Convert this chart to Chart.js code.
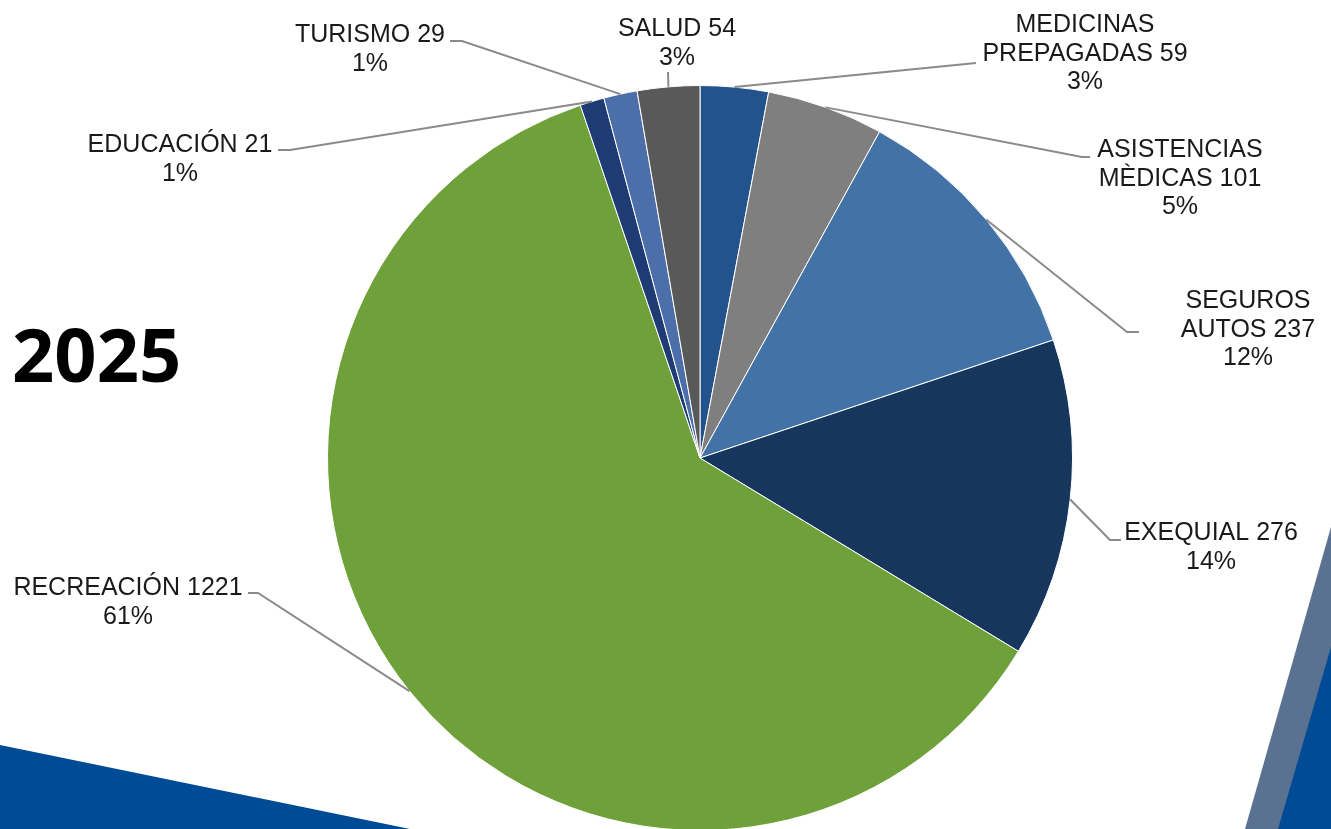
<!DOCTYPE html>
<html>
<head>
<meta charset="utf-8">
<script src="https://cdn.jsdelivr.net/npm/chart.js@4/dist/chart.umd.min.js"></script>
<style>
  html, body { margin: 0; padding: 0; width: 1331px; height: 829px; overflow: hidden; background: #fff; }
  .band { position: absolute; }
  #bandLeft  { left: 0; top: 0; width: 1331px; height: 829px; background: #004b96; clip-path: polygon(0 745px, 410px 829px, 0 829px); }
  #bandGray  { left: 0; top: 0; width: 1331px; height: 829px; background: #5b7190; clip-path: polygon(1331px 527px, 1331px 829px, 1245px 829px); }
  #bandBlue  { left: 0; top: 0; width: 1331px; height: 829px; background: #004b96; clip-path: polygon(1331px 647px, 1331px 829px, 1278px 829px); }
  #wrap { position: absolute; left: 0; top: 0; width: 1331px; height: 845px; }
  #year { position: absolute; left: 12px; top: 304px; font: bold 74px "Noto Sans", "Open Sans", sans-serif; color: #000; line-height: 100px; }
</style>
</head>
<body>
<div class="band" id="bandLeft"></div>
<div class="band" id="bandGray"></div>
<div class="band" id="bandBlue"></div>
<div id="year">2025</div>
<div id="wrap"><canvas id="pie"></canvas></div>
<script>
// ── datos ────────────────────────────────────────────────────────────────────
const CATEGORIES = [
  ['MEDICINAS', 'PREPAGADAS'],
  ['ASISTENCIAS', 'MÈDICAS'],
  ['SEGUROS', 'AUTOS'],
  ['EXEQUIAL'],
  ['RECREACIÓN'],
  ['EDUCACIÓN'],
  ['TURISMO'],
  ['SALUD']
];
const VALUES = [59, 101, 237, 276, 1221, 21, 29, 54];
const COLORS = ['#23538c', '#7f7f7f', '#4373a6', '#17365d', '#6fa13a', '#1f3b73', '#4c6fa9', '#595959'];

// ── posición de etiquetas (centro del texto, primera línea base, recorrido de la guía) ──
const LABEL_LAYOUT = [
  { cx: 1085, by: 32,  path: [[976, 63]] },
  { cx: 1180, by: 157, path: [[1082, 157], [1090, 157]] },
  { cx: 1248, by: 308, path: [[1127, 332], [1139, 332]] },
  { cx: 1211, by: 540, path: [[1110, 540], [1121, 540]] },
  { cx: 128,  by: 595, path: [[258, 593], [248, 593]] },
  { cx: 180,  by: 152, path: [[290, 150], [278, 150]] },
  { cx: 370,  by: 42,  path: [[462, 41], [450, 41]] },
  { cx: 677,  by: 36,  path: [[668, 72]] }
];

const TOTAL = VALUES.reduce((a, b) => a + b, 0);

const labelPlugin = {
  id: 'pieLabels',
  afterDatasetsDraw(chart) {
    const c = chart.ctx;
    const arcs = chart.getDatasetMeta(0).data;
    c.save();
    arcs.forEach((arc, i) => {
      const p = arc.getProps(['x', 'y', 'startAngle', 'endAngle', 'outerRadius'], true);
      const mid = (p.startAngle + p.endAngle) / 2;
      const sx = p.x + Math.cos(mid) * p.outerRadius;
      const sy = p.y + Math.sin(mid) * p.outerRadius;
      const lay = LABEL_LAYOUT[i];

      // guía
      c.strokeStyle = '#8a8a8a';
      c.lineWidth = 2;
      c.beginPath();
      c.moveTo(sx, sy);
      lay.path.forEach(pt => c.lineTo(pt[0], pt[1]));
      c.stroke();

      // texto
      const name = CATEGORIES[i].slice();
      name[name.length - 1] += ' ' + VALUES[i];
      name.push(Math.round(VALUES[i] / TOTAL * 100) + '%');
      c.fillStyle = '#1a1a1a';
      c.font = '25px "Liberation Sans", Arial, sans-serif';
      c.textAlign = 'center';
      c.textBaseline = 'alphabetic';
      name.forEach((line, k) => c.fillText(line, lay.cx, lay.by + k * 28.5));
    });
    c.restore();
  }
};

new Chart(document.getElementById('pie'), {
  type: 'pie',
  data: {
    labels: CATEGORIES.map(n => n.join(' ')),
    datasets: [{
      data: VALUES,
      backgroundColor: COLORS,
      borderColor: '#ffffff',
      borderWidth: 1
    }]
  },
  options: {
    responsive: true,
    maintainAspectRatio: false,
    animation: false,
    events: [],
    layout: { padding: { top: 85, bottom: 14, left: 327, right: 258 } },
    plugins: {
      legend: { display: false },
      tooltip: { enabled: false }
    }
  },
  plugins: [labelPlugin]
});
</script>
</body>
</html>
